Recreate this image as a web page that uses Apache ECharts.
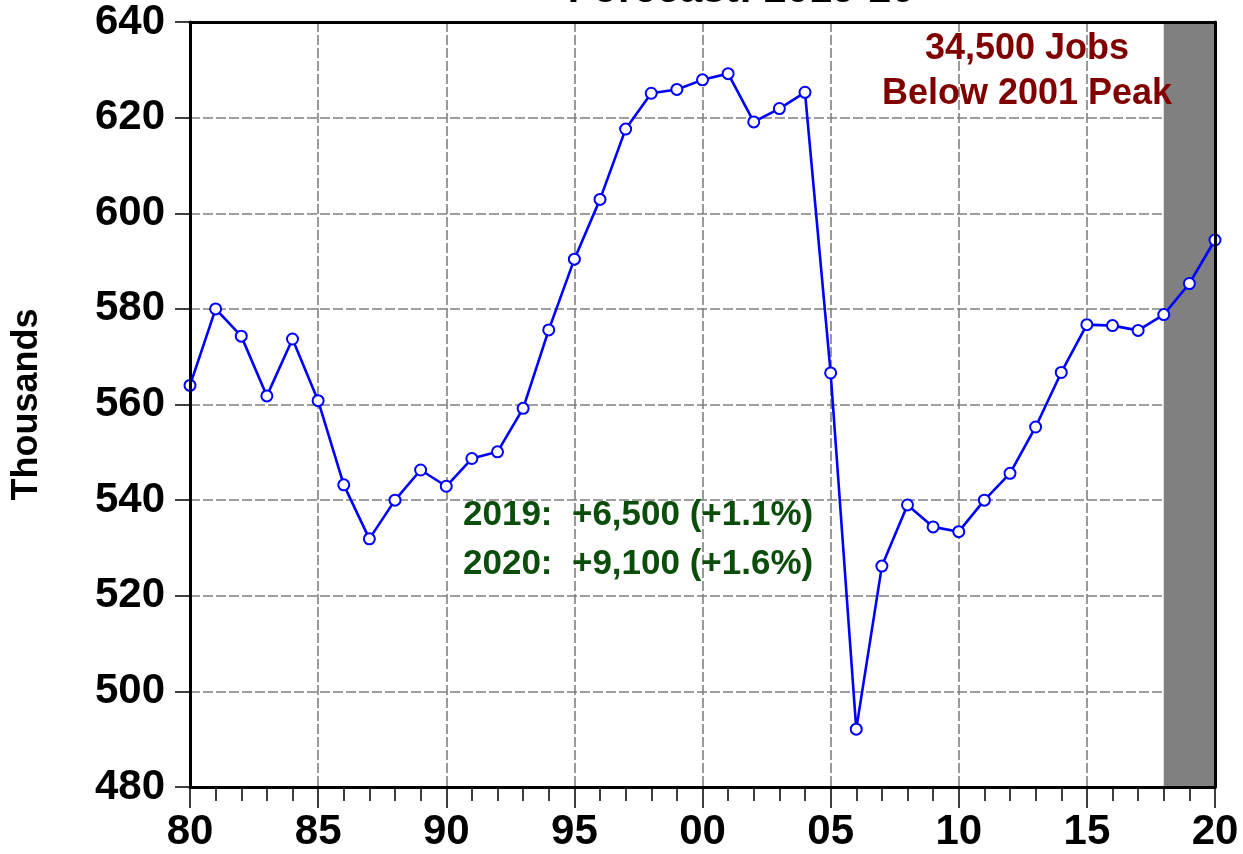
<!DOCTYPE html>
<html>
<head>
<meta charset="utf-8">
<title>Forecast: 2019-20</title>
<script src="https://cdn.jsdelivr.net/npm/echarts@6/dist/echarts.min.js"></script>
<style>
    html, body { margin: 0; padding: 0; background: #fff; }
    #chart { width: 1243px; height: 854px; }
</style>
</head>
<body>
<div id="chart"></div>
<script>
// annual values, thousands of jobs
var years = [1980, 1981, 1982, 1983, 1984, 1985, 1986, 1987, 1988, 1989,
    1990, 1991, 1992, 1993, 1994, 1995, 1996, 1997, 1998, 1999,
    2000, 2001, 2002, 2003, 2004, 2005, 2006, 2007, 2008, 2009,
    2010, 2011, 2012, 2013, 2014, 2015, 2016, 2017, 2018, 2019, 2020];
var jobs = [564.0, 580.0, 574.3, 561.8, 573.7, 560.8, 543.2, 531.9, 540.0, 546.3,
    542.9, 548.7, 550.1, 559.2, 575.6, 590.4, 602.9, 617.6, 625.1, 625.9,
    627.9, 629.2, 619.1, 621.9, 625.3, 566.6, 492.1, 526.2, 539.0, 534.4,
    533.4, 540.0, 545.6, 555.3, 566.7, 576.7, 576.5, 575.5, 578.8, 585.3, 594.4];
var forecastSpan = [2018, 2020];
var yRange = [480, 640];
var xRange = [1980, 2020];
var titleText = 'Forecast: 2019-20';
var peakNote = ['34,500 Jobs', 'Below 2001 Peak'];
var forecastNote = ['2019:  +6,500 (+1.1%)', '2020:  +9,100 (+1.6%)'];

var FONT = '"Liberation Sans", Arial, sans-serif';

var points = [];
for (var i = 0; i < years.length; i++) {
    points.push([years[i], jobs[i]]);
}

var myChart = echarts.init(document.getElementById('chart'));

// frame lines only, drawn above the shading
function frameAxis(pos, isX) {
    var ax = {
        type: 'value',
        position: pos,
        z: 10,
        axisLine: { show: true, onZero: false, lineStyle: { color: '#000', width: 3 } },
        axisTick: { show: false },
        axisLabel: { show: false },
        splitLine: { show: false }
    };
    if (isX) { ax.min = xRange[0]; ax.max = xRange[1]; ax.interval = 5; }
    else { ax.min = yRange[0]; ax.max = yRange[1]; ax.interval = 20; }
    return ax;
}

// dashed grid only, drawn below the shading
function gridAxis(pos, isX) {
    var ax = {
        type: 'value',
        position: pos,
        z: 0,
        axisLine: { show: false },
        axisTick: { show: false },
        axisLabel: { show: false },
        splitLine: { show: true, lineStyle: { color: '#808080', width: 1.6, type: [10, 3] } }
    };
    if (isX) { ax.min = xRange[0]; ax.max = xRange[1]; ax.interval = 5; }
    else { ax.min = yRange[0]; ax.max = yRange[1]; ax.interval = 20; }
    return ax;
}

var option = {
    backgroundColor: '#fff',
    animation: false,
    grid: {
        left: 190,
        right: 28,
        top: 22,
        bottom: 67,
        containLabel: false,
        outerBoundsMode: 'none'
    },
    xAxis: [{
        type: 'value',
        position: 'bottom',
        min: xRange[0],
        max: xRange[1],
        interval: 5,
        z: 10,
        axisLine: { show: true, onZero: false, lineStyle: { color: '#000', width: 3 } },
        axisTick: { show: true, length: 21, lineStyle: { color: '#000', width: 1.5 } },
        minorTick: { show: true, splitNumber: 5, length: 14, lineStyle: { color: '#000', width: 1.5 } },
        axisLabel: {
            margin: 24,
            color: '#000',
            fontFamily: FONT,
            fontWeight: 'bold',
            fontSize: 42,
            formatter: function(v) {
                var s = String(v % 100);
                return s.length < 2 ? '0' + s : s;
            }
        },
        splitLine: { show: false }
    }, gridAxis('bottom', true), frameAxis('top', true)],
    yAxis: [{
        type: 'value',
        position: 'left',
        min: yRange[0],
        max: yRange[1],
        interval: 20,
        z: 10,
        name: 'Thousands',
        nameLocation: 'middle',
        nameRotate: 90,
        nameGap: 145,
        nameTextStyle: {
            color: '#000',
            fontFamily: FONT,
            fontWeight: 'bold',
            fontSize: 36
        },
        axisLine: { show: true, onZero: false, lineStyle: { color: '#000', width: 3 } },
        axisTick: { show: true, length: 15, lineStyle: { color: '#000', width: 1.5 } },
        axisLabel: {
            margin: 25,
            color: '#000',
            fontFamily: FONT,
            fontWeight: 'bold',
            fontSize: 42
        },
        splitLine: { show: false }
    }, gridAxis('left', false), frameAxis('right', false)],
    series: [{
        type: 'line',
        xAxisIndex: 0,
        yAxisIndex: 0,
        data: points,
        z: 5,
        lineStyle: { color: '#0000ff', width: 2.6 },
        symbol: 'circle',
        symbolSize: 11,
        showAllSymbol: true,
        itemStyle: { color: '#fff', borderColor: '#0000ff', borderWidth: 2 },
        markArea: {
            silent: true,
            itemStyle: { color: '#808080', opacity: 1 },
            data: [[{ xAxis: forecastSpan[0] }, { xAxis: forecastSpan[1] }]]
        }
    }],
    graphic: [{
        type: 'text',
        x: 741,
        y: -9,
        z: 20,
        style: {
            text: titleText,
            fill: '#000',
            font: 'bold 41px ' + FONT,
            textAlign: 'center',
            textVerticalAlign: 'middle'
        }
    }, {
        type: 'text',
        x: 1027,
        y: 72,
        z: 20,
        style: {
            text: peakNote.join('\n'),
            fill: '#800000',
            font: 'bold 36px ' + FONT,
            lineHeight: 45,
            textAlign: 'center',
            textVerticalAlign: 'middle'
        }
    }, {
        type: 'text',
        x: 463,
        y: 540,
        z: 20,
        style: {
            text: forecastNote.join('\n'),
            fill: '#0b4d0b',
            font: 'bold 35px ' + FONT,
            lineHeight: 49,
            textAlign: 'left',
            textVerticalAlign: 'middle'
        }
    }]
};

myChart.setOption(option);
</script>
</body>
</html>
